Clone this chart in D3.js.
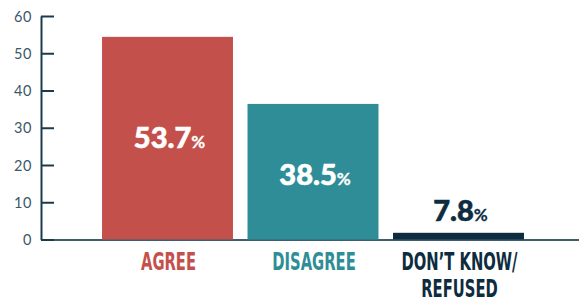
<!DOCTYPE html>
<html><head><meta charset="utf-8">
<script src="https://cdn.jsdelivr.net/npm/d3@7"></script>
<style>body{margin:0;background:#fff}svg{display:block}</style>
</head><body>
<svg id="c" width="579" height="302"></svg>
<script>
const categories = ["AGREE", "DISAGREE", "DON\u2019T KNOW/|REFUSED"];
const barValues = [54.4, 36.4, 1.8];
const valueLabels = ["53.7", "38.5", "7.8"];
const yTicks = [0, 10, 20, 30, 40, 50, 60];
const colors = ["#c4504b", "#2e8d97", "#0e2c40"];

const svg = d3.select("#c");
const y = d3.scaleLinear().domain([0, 60]).range([239.5, 16]);
const x = d3.scaleBand().domain(categories).range([94.75, 531.25]).paddingInner(0.1).paddingOuter(0.05);

// x baseline
svg.append("line").attr("x1", 41).attr("x2", 579).attr("y1", 240).attr("y2", 240)
  .attr("stroke", "#3f5e71").attr("stroke-width", 2);

// bars
svg.selectAll("rect.bar").data(categories).join("rect")
  .attr("class", "bar")
  .attr("x", d => x(d)).attr("width", x.bandwidth())
  .attr("y", (d, i) => y(barValues[i]))
  .attr("height", (d, i) => y(0) - y(barValues[i]))
  .attr("fill", (d, i) => colors[i]);

// y axis
const yAxis = d3.axisLeft(y).tickValues(yTicks).tickSize(0).tickPadding(9);
const ga = svg.append("g").attr("transform", "translate(41,0)").call(yAxis);
ga.select(".domain").attr("stroke", "#1d3a4c").attr("stroke-width", 2);
ga.selectAll(".tick text").attr("font-family", "Lato, sans-serif").attr("font-size", 14.5)
  .attr("fill", "#3b5868").attr("letter-spacing", 0.6).attr("dy", "0.36em");
ga.selectAll(".tick").append("line").attr("x1", 0).attr("x2", 13)
  .attr("stroke", "#1d3a4c").attr("stroke-width", 2);

// value labels
categories.forEach((c, i) => {
  const top = y(barValues[i]), h = y(0) - top;
  const inside = h > 60;
  const cx = x(c) + x.bandwidth() / 2 + 2;
  const base = inside ? (top + y(0)) / 2 + 10 + (h < 150 ? 3 : 0) : top - 12;
  const t = svg.append("text").attr("x", cx).attr("y", base)
    .attr("text-anchor", "middle")
    .attr("font-family", "Lato, sans-serif").attr("font-weight", 900)
    .attr("fill", inside ? "#ffffff" : colors[i])
    .attr("stroke", inside ? "#ffffff" : colors[i]).attr("stroke-width", 0.6);
  t.append("tspan").attr("font-size", 29).text(valueLabels[i]);
  t.append("tspan").attr("font-size", 17).attr("font-weight", 700).attr("stroke-width", 0.3).text("%");
});

// category labels
categories.forEach((c, i) => {
  const cx = x(c) + x.bandwidth() / 2 + 1;
  const lines = c.split("|");
  lines.forEach((ln, j) => {
    svg.append("text")
      .attr("transform", `translate(${cx},${269.5 + j * 27.4}) scale(0.67,1)`)
      .attr("text-anchor", "middle")
      .attr("font-family", "'Liberation Sans Narrow', 'DejaVu Sans Condensed', sans-serif")
      .attr("font-weight", 700).attr("font-size", 24.5)
      .attr("fill", colors[i]).text(ln);
  });
});
</script>
</body></html>
